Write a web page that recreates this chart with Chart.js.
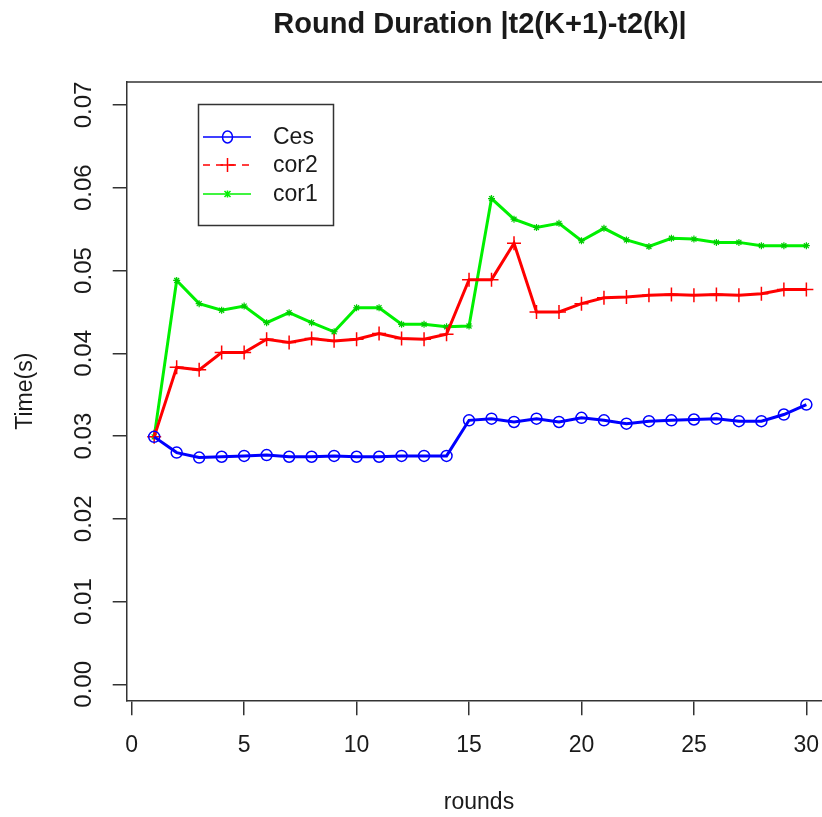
<!DOCTYPE html>
<html>
<head>
<meta charset="utf-8">
<script src="https://cdn.jsdelivr.net/npm/chart.js@4.4.1/dist/chart.umd.min.js"></script>
<style>
  html, body { margin: 0; padding: 0; background: #fff; }
  #wrap { width: 822px; height: 817px; }
</style>
</head>
<body>
<div id="wrap"><canvas id="myChart" width="822" height="817"></canvas></div>
<script>
// rounds 1..30
const rounds = [1, 2, 3, 4, 5, 6, 7, 8, 9, 10, 11, 12, 13, 14, 15,
  16, 17, 18, 19, 20, 21, 22, 23, 24, 25, 26, 27, 28, 29, 30];

const ces = [0.0299, 0.0280, 0.0274, 0.0275, 0.0276, 0.0277, 0.0275, 0.0275, 0.0276, 0.0275,
  0.0275, 0.0276, 0.0276, 0.0276, 0.0319, 0.0321, 0.0317, 0.0321, 0.0317, 0.0322,
  0.0319, 0.0315, 0.0318, 0.0319, 0.0320, 0.0321, 0.0318, 0.0318, 0.0326, 0.0338];

const cor2 = [0.0299, 0.0383, 0.0380, 0.0401, 0.0401, 0.0417, 0.0413, 0.0418, 0.0415, 0.0417,
  0.0424, 0.0418, 0.0417, 0.0423, 0.0489, 0.0489, 0.0533, 0.0450, 0.0450, 0.0460,
  0.0467, 0.0468, 0.0470, 0.0471, 0.0470, 0.0471, 0.0470, 0.0472, 0.0477, 0.0477];

const cor1 = [0.0299, 0.0488, 0.0460, 0.0452, 0.0457, 0.0437, 0.0449, 0.0437, 0.0426, 0.0455,
  0.0455, 0.0435, 0.0435, 0.0432, 0.0433, 0.0587, 0.0562, 0.0552, 0.0557, 0.0536,
  0.0551, 0.0537, 0.0529, 0.0539, 0.0538, 0.0534, 0.0534, 0.0530, 0.0530, 0.0530];

const xTicks = [0, 5, 10, 15, 20, 25, 30];
const yTicks = [0.00, 0.01, 0.02, 0.03, 0.04, 0.05, 0.06, 0.07];
const yTickLabels = ["0.00", "0.01", "0.02", "0.03", "0.04", "0.05", "0.06", "0.07"];
const seriesNames = ["Ces", "cor2", "cor1"];

const FONT = '"Liberation Sans", Arial, sans-serif';
const INK = "#1a1a1a";
const FRAME = "#333";
const BLUE = "#0000ff", RED = "#ff0000", GREEN = "#00f000";

const toPoints = (vals) => rounds.map((r, i) => ({ x: r, y: vals[i] }));

function drawMark(ctx, style, x, y, color) {
  ctx.save();
  ctx.strokeStyle = color;
  ctx.lineWidth = 1.5;
  ctx.beginPath();
  if (style === "circle") {
    ctx.ellipse(x, y, 5, 6, 0, 0, Math.PI * 2);
  } else if (style === "cross") {
    ctx.moveTo(x - 7, y); ctx.lineTo(x + 7, y);
    ctx.moveTo(x, y - 7); ctx.lineTo(x, y + 7);
  } else {
    ctx.moveTo(x - 3, y - 3); ctx.lineTo(x + 3, y + 3);
    ctx.moveTo(x - 3, y + 3); ctx.lineTo(x + 3, y - 3);
    ctx.moveTo(x, y - 3.5); ctx.lineTo(x, y + 3.5);
  }
  ctx.stroke();
  ctx.restore();
}

// R-style frame, labels and legend
const rDecor = {
  id: "rDecor",
  afterDraw(chart) {
    const ctx = chart.ctx;
    const a = chart.chartArea;
    const xs = chart.scales.x, ys = chart.scales.y;
    ctx.save();
    // top edge of box
    ctx.strokeStyle = FRAME;
    ctx.lineWidth = 1.5;
    ctx.beginPath();
    ctx.moveTo(a.left, a.top);
    ctx.lineTo(a.right, a.top);
    ctx.stroke();

    ctx.fillStyle = INK;
    // title
    ctx.font = "bold 29px " + FONT;
    ctx.textAlign = "center";
    ctx.textBaseline = "middle";
    ctx.fillText("Round Duration |t2(K+1)-t2(k)|", 480, 25);

    // x tick labels
    ctx.font = "23px " + FONT;
    xTicks.forEach((v) => {
      ctx.fillText(String(v), xs.getPixelForValue(v), 746);
    });
    ctx.fillText("rounds", 479, 803);

    // y tick labels, rotated
    ctx.font = "24px " + FONT;
    yTicks.forEach((v, i) => {
      ctx.save();
      ctx.translate(84, ys.getPixelForValue(v));
      ctx.rotate(-Math.PI / 2);
      ctx.fillText(yTickLabels[i], 0, 0);
      ctx.restore();
    });
    ctx.font = "23px " + FONT;
    ctx.save();
    ctx.translate(26, (a.top + a.bottom) / 2);
    ctx.rotate(-Math.PI / 2);
    ctx.fillText("Time(s)", 0, 0);
    ctx.restore();

    // legend
    ctx.strokeStyle = FRAME;
    ctx.lineWidth = 1.5;
    ctx.strokeRect(198.5, 104.5, 135, 121);
    const rowsY = [137, 165, 194];
    const cols = [BLUE, RED, GREEN];
    const marks = ["circle", "cross", "star"];
    ctx.textAlign = "left";
    ctx.font = "23px " + FONT;
    seriesNames.forEach((name, i) => {
      ctx.save();
      ctx.strokeStyle = cols[i];
      ctx.lineWidth = 1.5;
      if (i === 1) ctx.setLineDash([7, 6]);
      ctx.beginPath();
      ctx.moveTo(203, rowsY[i]);
      ctx.lineTo(251, rowsY[i]);
      ctx.stroke();
      ctx.restore();
      drawMark(ctx, marks[i], 227.5, rowsY[i], cols[i]);
      ctx.fillStyle = INK;
      ctx.fillText(name, 273, rowsY[i] + 1);
    });
    ctx.restore();
  }
};

const ctx = document.getElementById("myChart").getContext("2d");
const myChart = new Chart(ctx, {
  type: "line",
  data: {
    datasets: [
      {
        label: seriesNames[0],
        data: toPoints(ces),
        borderColor: BLUE,
        backgroundColor: "rgba(0,0,0,0)",
        borderWidth: 3,
        pointStyle: "circle",
        pointRadius: 5.5,
        pointBorderWidth: 1.5,
        pointBorderColor: BLUE,
        pointBackgroundColor: "rgba(0,0,0,0)",
        tension: 0,
      },
      {
        label: seriesNames[1],
        data: toPoints(cor2),
        borderColor: RED,
        backgroundColor: RED,
        borderWidth: 3,
        pointStyle: "cross",
        pointRadius: 7,
        pointBorderWidth: 1.5,
        pointBorderColor: RED,
        tension: 0,
      },
      {
        label: seriesNames[2],
        data: toPoints(cor1),
        borderColor: GREEN,
        backgroundColor: GREEN,
        borderWidth: 3,
        pointStyle: "star",
        pointRadius: 3.5,
        pointBorderWidth: 1.2,
        pointBorderColor: "#00cc00",
        tension: 0,
      },
    ],
  },
  options: {
    responsive: false,
    animation: false,
    devicePixelRatio: 1,
    layout: { autoPadding: false, padding: { top: 82, right: 0, left: 0, bottom: 0 } },
    plugins: {
      legend: { display: false },
      title: { display: false },
      tooltip: { enabled: false },
    },
    scales: {
      x: {
        type: "linear",
        min: -0.222,
        max: 30.695,
        afterBuildTicks: (scale) => { scale.ticks = xTicks.map((v) => ({ value: v })); },
        afterFit: (scale) => { scale.height = 116.7; },
        grid: { drawOnChartArea: false, drawTicks: true, tickLength: 15, color: FRAME, lineWidth: 1.5 },
        border: { display: true, color: FRAME, width: 1.5 },
        ticks: { display: false },
      },
      y: {
        type: "linear",
        min: -0.00193,
        max: 0.07278,
        afterBuildTicks: (scale) => { scale.ticks = yTicks.map((v) => ({ value: v })); },
        afterFit: (scale) => { scale.width = 126.7; },
        grid: { drawOnChartArea: false, drawTicks: true, tickLength: 14, color: FRAME, lineWidth: 1.5 },
        border: { display: true, color: FRAME, width: 1.5 },
        ticks: { display: false },
      },
    },
  },
  plugins: [rDecor],
});
</script>
</body>
</html>
